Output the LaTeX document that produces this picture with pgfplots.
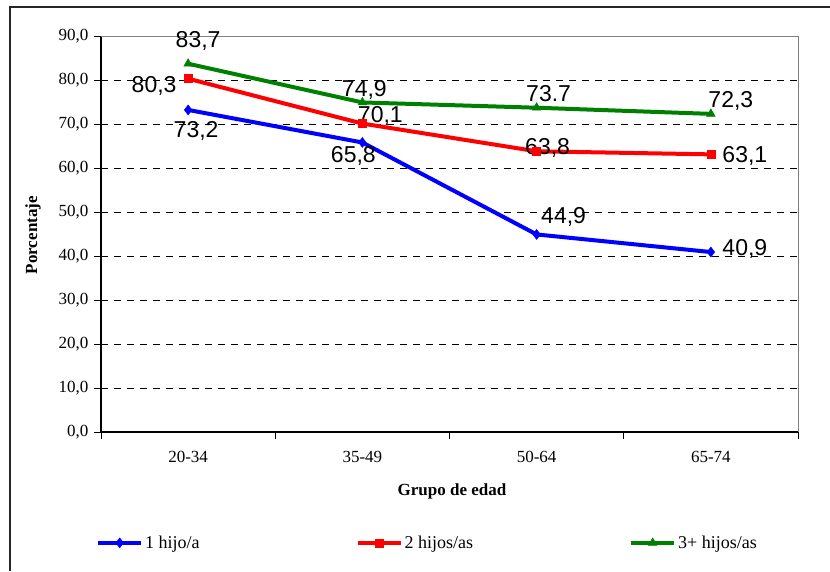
\documentclass[border=0pt]{standalone}
\usepackage{pgfplots}
\pgfplotsset{compat=1.18}
\usepackage{fontspec}
\setmainfont{Liberation Serif}
\newfontfamily\arial{Liberation Sans}
\definecolor{cblue}{RGB}{0,0,255}
\definecolor{cred}{RGB}{255,0,0}
\definecolor{cgreen}{RGB}{0,128,0}
\newcommand{\lbl}{\arial\fontsize{23}{23}\selectfont}
\begin{document}
\begin{tikzpicture}
\useasboundingbox (0,0) rectangle (830pt,571pt);
\draw[line width=1.6pt, black!85] (10pt,0pt) -- (10pt,564pt) -- (830pt,564pt);
\begin{axis}[
    at={(101pt,139pt)}, anchor=south west,
    width=697pt, height=396pt, scale only axis,
    clip=false,
    xmin=-0.5, xmax=3.5, ymin=0, ymax=90,
    axis x line*=bottom, axis y line*=left,
    axis line style={black, line width=1.2pt},
    xtick={0,1,2,3},
    xticklabels={20-34,35-49,50-64,65-74},
    major x tick style={draw=none},
    minor xtick={-0.5,0.5,1.5,2.5,3.5},
    ytick={0,10,20,30,40,50,60,70,80,90},
    tick align=outside,
    major tick length=7pt, minor tick length=7pt,
    tick style={black, line width=0.8pt},
    ymajorgrids,
    grid style={black, dash pattern=on 7pt off 6pt, line width=0.8pt},
    /pgf/number format/.cd, fixed, fixed zerofill, precision=1, use comma, assume math mode=true,
    /pgfplots/.cd,
    ticklabel style={font=\fontsize{17}{17}\selectfont},
    xticklabel style={yshift=-9pt},
    yticklabel style={xshift=-2pt},
    xlabel={Grupo de edad},
    ylabel={Porcentaje},
    every axis x label/.style={at={(axis description cs:0.5036,-0.149)}, anchor=center,
        font=\bfseries\fontsize{17}{17}\selectfont},
    every axis y label/.style={at={(axis description cs:-0.0976,0.497)}, anchor=center, rotate=90,
        font=\bfseries\fontsize{17}{17}\selectfont},
    legend columns=3,
    legend style={at={(axis description cs:-0.0072,-0.280)}, anchor=west, draw=none, fill=none,
        inner sep=0pt, font=\fontsize{18}{18}\selectfont,
        /tikz/every even column/.append style={column sep=154pt}},
    legend image code/.code={\draw[mark repeat=2,mark phase=2,#1] plot coordinates {(0pt,0pt) (21.5pt,0pt) (43pt,0pt)};},
    every axis plot/.append style={line width=4pt},
]
\addplot[cblue, mark=diamond*, mark size=5pt, mark options={solid, line width=0.5pt}]
    coordinates {(0,73.2) (1,65.8) (2,44.9) (3,40.9)};
\addlegendentry{1 hijo/a}
\addplot[cred, mark=square*, mark size=4pt, mark options={solid, line width=0.5pt}]
    coordinates {(0,80.3) (1,70.1) (2,63.8) (3,63.1)};
\addlegendentry{2 hijos/as}
\addplot[cgreen, mark=triangle*, mark size=5pt, mark options={solid, line width=0.5pt}]
    coordinates {(0,83.7) (1,74.9) (2,73.7) (3,72.3)};
\addlegendentry{3+ hijos/as}
\draw[gray, line width=1pt] (rel axis cs:0,1) -- (rel axis cs:1,1) -- (rel axis cs:1,0);
% etiquetas de datos
\node[font=\lbl] at (axis cs:0,73.2) [xshift=8pt,yshift=-21pt] {73,2};
\node[font=\lbl] at (axis cs:1,65.8) [xshift=-9pt,yshift=-13pt] {65,8};
\node[font=\lbl] at (axis cs:2,44.9) [xshift=27pt,yshift=18pt] {44,9};
\node[font=\lbl] at (axis cs:3,40.9) [xshift=34pt,yshift=3pt] {40,9};
\node[font=\lbl] at (axis cs:0,80.3) [xshift=-34pt,yshift=-7pt] {80,3};
\node[font=\lbl] at (axis cs:1,70.1) [xshift=18pt,yshift=8pt] {70,1};
\node[font=\lbl] at (axis cs:2,63.8) [xshift=11pt,yshift=3pt] {63,8};
\node[font=\lbl] at (axis cs:3,63.1) [xshift=34pt,yshift=-2pt] {63,1};
\node[font=\lbl] at (axis cs:0,83.7) [xshift=10pt,yshift=23pt] {83,7};
\node[font=\lbl] at (axis cs:1,74.9) [xshift=2pt,yshift=13pt] {74,9};
\node[font=\lbl] at (axis cs:2,73.7) [xshift=12pt,yshift=14pt] {73.7};
\node[font=\lbl] at (axis cs:3,72.3) [xshift=20pt,yshift=13pt] {72,3};
\end{axis}
\end{tikzpicture}
\end{document}
